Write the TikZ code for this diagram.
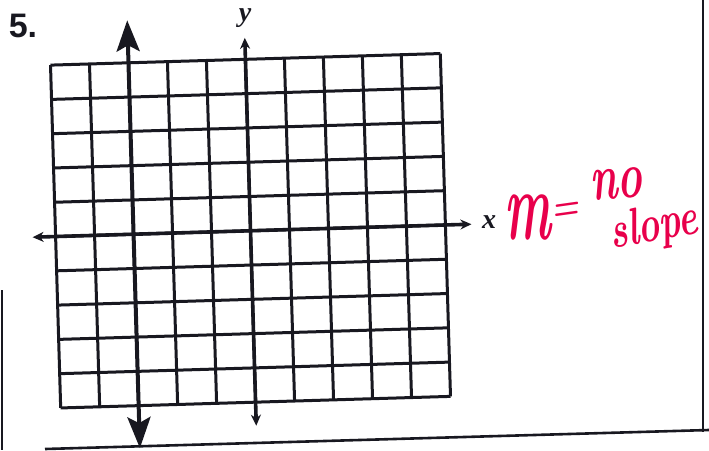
\documentclass[tikz,border=0pt]{standalone}
\usepackage{fontspec}
\usetikzlibrary{arrows.meta}
\newfontfamily\numfont{Liberation Sans}
\newfontfamily\labfont{Liberation Serif}
\definecolor{ink}{RGB}{24,24,32}
\definecolor{pen}{RGB}{232,0,75}
\tikzset{
  gridline/.style={draw=ink, line width=3pt},
  axisline/.style={draw=ink, line width=3.6pt, {Stealth[length=11pt,width=10pt]}-{Stealth[length=11pt,width=10pt]}},
  graphline/.style={draw=ink, line width=4pt, {Stealth[length=31pt,width=23pt,inset=6pt]}-{Stealth[length=31pt,width=23pt,inset=6pt]}},
  border/.style={draw=ink, line width=2.6pt},
  hand/.style={text=pen, inner sep=0pt, font=\itshape\bfseries},
  axlabel/.style={text=ink, inner sep=0pt, font=\labfont\bfseries\itshape\fontsize{28}{28}\selectfont},
}
\begin{document}
\begin{tikzpicture}[x=1pt,y=-1pt]
\useasboundingbox (0,0) rectangle (709,450);
% scan borders
\draw[border] (703,0) -- (703,432);
\draw[border] (45,449) -- (709,430);
\draw[border] (2,290) -- (2,450);
% grid, axes and line, slightly rotated as in the scan
\begin{scope}[shift={(250.5,230.75)}, rotate=1.7]
  \foreach \i in {0,...,10} {
    \draw[gridline] (-195+39*\i,-171.5) -- (-195+39*\i,171.5);
    \draw[gridline] (-195,-171.5+34.3*\i) -- (195,-171.5+34.3*\i);
  }
  \coordinate (xl) at (-218,0);
  \coordinate (xr) at (221,0);
  \coordinate (yt) at (0,-193);
  \coordinate (yb) at (0,195);
  \coordinate (lt) at (-117,-214);
  \coordinate (lb) at (-117,214);
  \draw[axisline] (xl) -- (xr);
  \draw[axisline] (yb) -- (yt);
  \draw[graphline] (lb) -- (lt);
\end{scope}
% labels
\node[text=ink, inner sep=0pt, font=\numfont\bfseries\fontsize{34}{34}\selectfont] (num) at (23,26) {5.};
\node[axlabel] (ylab) at (245,18) {y};
\node[axlabel] (xlab) at (489,222) {x};
% handwritten answer
\node[hand] (hm) at (528,218) {\scalebox{0.55}[1.1]{\fontsize{90}{90}\selectfont m}};
\node[hand, rotate=8] (heq) at (565,212) {\scalebox{0.8}[1]{\fontsize{40}{40}\selectfont =}};
\node[hand, rotate=4] (hno) at (616,184) {\scalebox{0.7}[1.1]{\fontsize{60}{60}\selectfont no}};
\node[hand, rotate=10] (hslope) at (654,228) {\scalebox{0.7}[1]{\fontsize{52}{52}\selectfont slope}};
\end{tikzpicture}
\end{document}
